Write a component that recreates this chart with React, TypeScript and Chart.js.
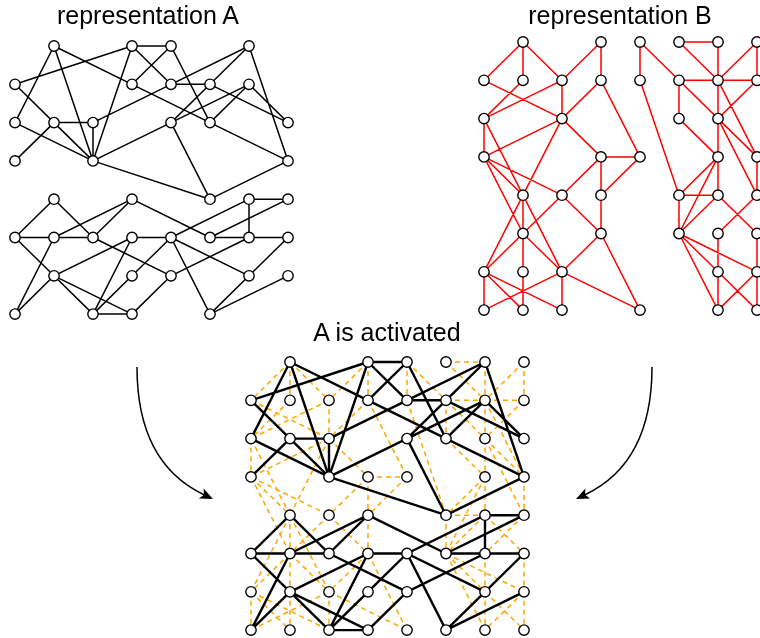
import React, { useEffect, useRef } from "react";
import { Chart, registerables } from "chart.js";

Chart.register(...registerables);

type Cell = [number, number];
type Edge = [number, number, number, number];

// ---------- Representation A: nodes as [row, col] on an 8x8 grid ----------
const nodesA: Cell[] = [
  [0, 1], [0, 3], [0, 4], [0, 6],
  [1, 0], [1, 3], [1, 4], [1, 5], [1, 6],
  [2, 0], [2, 1], [2, 2], [2, 4], [2, 5], [2, 7],
  [3, 0], [3, 2], [3, 7],
  [4, 1], [4, 3], [4, 5], [4, 6], [4, 7],
  [5, 0], [5, 1], [5, 2], [5, 3], [5, 4], [5, 5], [5, 6], [5, 7],
  [6, 1], [6, 3], [6, 4], [6, 6], [6, 7],
  [7, 0], [7, 2], [7, 3], [7, 5],
];

const edgesA: Edge[] = [
  [1, 0, 0, 3], [0, 3, 0, 4], [0, 1, 2, 0], [0, 1, 3, 2], [0, 1, 1, 3],
  [0, 3, 1, 4], [0, 4, 1, 3], [0, 4, 2, 5], [0, 3, 3, 2], [2, 2, 1, 4],
  [3, 2, 2, 4], [0, 6, 1, 4], [0, 6, 1, 5], [0, 6, 3, 7], [1, 4, 1, 5],
  [1, 5, 2, 7], [1, 6, 2, 4], [1, 6, 2, 5], [1, 6, 2, 7], [2, 5, 3, 7],
  [2, 4, 1, 5], [2, 4, 4, 5], [3, 2, 4, 5], [3, 7, 4, 5], [1, 0, 2, 1],
  [2, 0, 3, 2], [2, 1, 3, 0], [2, 1, 2, 2], [2, 1, 3, 2], [2, 2, 3, 2],
  [1, 3, 2, 5],
  [4, 1, 5, 0], [4, 1, 5, 2], [5, 0, 5, 1], [5, 0, 6, 1], [5, 1, 4, 3],
  [5, 1, 5, 2], [5, 1, 7, 0], [5, 2, 4, 3], [5, 2, 6, 4], [4, 3, 5, 5],
  [6, 1, 7, 0], [6, 1, 5, 3], [6, 1, 7, 2], [6, 1, 7, 3], [5, 3, 5, 4],
  [5, 3, 7, 2], [6, 3, 7, 2], [6, 3, 5, 4], [7, 2, 7, 3], [7, 3, 6, 4],
  [5, 4, 4, 6], [5, 4, 6, 6], [5, 4, 7, 5], [6, 4, 5, 6], [4, 6, 4, 7],
  [4, 6, 5, 6], [4, 7, 5, 5], [5, 5, 5, 6], [5, 6, 5, 7], [5, 7, 6, 6],
  [6, 6, 7, 5], [6, 7, 7, 5],
];

// ---------- Representation B ----------
const nodesB: Cell[] = [
  [0, 1], [0, 3], [0, 4], [0, 5], [0, 6], [0, 7],
  [1, 0], [1, 1], [1, 2], [1, 3], [1, 4], [1, 5], [1, 6], [1, 7],
  [2, 0], [2, 2], [2, 5], [2, 6],
  [3, 0], [3, 3], [3, 4], [3, 6], [3, 7],
  [4, 1], [4, 2], [4, 3], [4, 5], [4, 6], [4, 7],
  [5, 1], [5, 3], [5, 5], [5, 6], [5, 7],
  [6, 0], [6, 1], [6, 2], [6, 6], [6, 7],
  [7, 0], [7, 1], [7, 2], [7, 4], [7, 6], [7, 7],
];

const edgesB: Edge[] = [
  [0, 1, 1, 0], [0, 1, 1, 1], [0, 1, 1, 2], [1, 0, 2, 2], [1, 1, 2, 0],
  [1, 2, 2, 0], [1, 2, 2, 2], [0, 3, 1, 2], [0, 3, 1, 3], [1, 3, 2, 2],
  [1, 3, 3, 4], [2, 0, 3, 0], [2, 0, 4, 1], [2, 2, 3, 0], [2, 2, 3, 3],
  [2, 2, 4, 1], [3, 3, 3, 4], [3, 3, 4, 2], [3, 3, 4, 3], [3, 4, 4, 3],
  [3, 0, 4, 1], [3, 0, 4, 2], [3, 0, 5, 1],
  [4, 1, 5, 1], [4, 1, 6, 0], [4, 1, 6, 2], [4, 2, 5, 1], [4, 2, 5, 3],
  [4, 3, 5, 3], [5, 1, 6, 0], [5, 1, 6, 1], [5, 1, 6, 2], [5, 3, 6, 2],
  [5, 3, 7, 4], [6, 0, 7, 0], [6, 0, 7, 1], [6, 0, 7, 2], [7, 0, 6, 2],
  [6, 1, 7, 1], [6, 2, 7, 2], [6, 2, 7, 4],
  [0, 4, 1, 4], [0, 4, 1, 5], [1, 4, 4, 5], [0, 5, 0, 6], [0, 5, 1, 6],
  [0, 6, 1, 6], [0, 7, 1, 6], [0, 7, 1, 7], [1, 5, 1, 6], [1, 5, 2, 5],
  [1, 5, 2, 6], [1, 6, 1, 7], [1, 6, 2, 6], [1, 6, 3, 7], [1, 7, 2, 6],
  [2, 5, 3, 6], [2, 6, 3, 6], [2, 6, 3, 7], [2, 6, 4, 7], [3, 6, 4, 6],
  [3, 6, 4, 5], [3, 6, 5, 5], [3, 7, 4, 7],
  [4, 5, 4, 6], [4, 5, 5, 5], [4, 6, 5, 5], [4, 6, 5, 7], [4, 7, 5, 6],
  [5, 5, 6, 6], [5, 5, 6, 7], [5, 5, 7, 6], [5, 6, 6, 6], [6, 6, 7, 6],
  [6, 6, 7, 7], [6, 7, 7, 6], [5, 7, 6, 7], [6, 7, 7, 7],
];

const titles = ["representation A", "representation B", "A is activated"];

// ---------- layout ----------
const W = 760;
const H = 638;
const STEP_X = 39;
const STEP_Y = 38.3;
const ORIGIN_A = { x: 15, y: 46 };
const ORIGIN_B = { x: 484, y: 42 };
const ORIGIN_ACT = { x: 251, y: 362 };

const pt = (o: { x: number; y: number }, r: number, c: number) => ({
  x: o.x + c * STEP_X,
  y: o.y + r * STEP_Y,
});

const GAP = { x: NaN, y: NaN };

const edgeData = (edges: Edge[], o: { x: number; y: number }) =>
  edges.flatMap((e) => [pt(o, e[0], e[1]), pt(o, e[2], e[3]), { ...GAP }]);

const nodeData = (nodes: Cell[], o: { x: number; y: number }) =>
  nodes.map((n) => pt(o, n[0], n[1]));

const unionNodes = (): Cell[] => {
  const seen = new Set<string>();
  const out: Cell[] = [];
  [...nodesA, ...nodesB].forEach((n) => {
    const k = n[0] + "," + n[1];
    if (!seen.has(k)) {
      seen.add(k);
      out.push(n);
    }
  });
  return out;
};

const arrowPlugin = {
  id: "curvedArrows",
  afterDraw(chart: any) {
    const { ctx } = chart;
    const xs = chart.scales.x;
    const ys = chart.scales.y;
    const P = (x: number, y: number) => [xs.getPixelForValue(x), ys.getPixelForValue(y)];
    const arrows = [
      { a: P(137, 367), c: P(137, 463), b: P(213, 499) },
      { a: P(652, 367), c: P(652, 463), b: P(576, 499) },
    ];
    ctx.save();
    arrows.forEach(({ a, c, b }) => {
      const dx = b[0] - c[0];
      const dy = b[1] - c[1];
      const len = Math.hypot(dx, dy);
      const ux = dx / len;
      const uy = dy / len;
      const headLen = 13;
      const headW = 5.5;
      const base = [b[0] - ux * headLen, b[1] - uy * headLen];
      ctx.strokeStyle = "#000";
      ctx.lineWidth = 1.5;
      ctx.beginPath();
      ctx.moveTo(a[0], a[1]);
      ctx.quadraticCurveTo(c[0], c[1], base[0] + ux * 3, base[1] + uy * 3);
      ctx.stroke();
      ctx.fillStyle = "#000";
      ctx.beginPath();
      ctx.moveTo(b[0], b[1]);
      ctx.lineTo(base[0] - uy * headW, base[1] + ux * headW);
      ctx.lineTo(base[0] + ux * 3, base[1] + uy * 3);
      ctx.lineTo(base[0] + uy * headW, base[1] - ux * headW);
      ctx.closePath();
      ctx.fill();
    });
    ctx.restore();
  },
};

const lineDs = (data: any[], color: string, width: number, order: number, dash: number[] = []) => ({
  data,
  showLine: true,
  spanGaps: false,
  borderColor: color,
  borderWidth: width,
  borderDash: dash,
  pointRadius: 0,
  pointHoverRadius: 0,
  fill: false,
  tension: 0,
  clip: false,
  order,
});

const nodeDs = (data: any[]) => ({
  data,
  showLine: false,
  pointRadius: 5.2,
  pointHoverRadius: 5.2,
  pointBackgroundColor: "#ffffff",
  pointBorderColor: "#000000",
  pointBorderWidth: 1.4,
  clip: false,
  order: 0,
});

export default function App() {
  const ref = useRef<HTMLCanvasElement | null>(null);

  useEffect(() => {
    if (!ref.current) return;
    let chart: Chart | null = null;
    try {
      const all = unionNodes();
      chart = new Chart(ref.current, {
        type: "scatter",
        data: {
          datasets: [
            nodeDs(nodeData(nodesA, ORIGIN_A)),
            nodeDs(nodeData(nodesB, ORIGIN_B)),
            nodeDs(nodeData(all, ORIGIN_ACT)),
            lineDs(edgeData(edgesA, ORIGIN_ACT), "#000000", 2.4, 1),
            lineDs(edgeData(edgesB, ORIGIN_ACT), "#ffa500", 1.5, 2, [5, 4]),
            lineDs(edgeData(edgesA, ORIGIN_A), "#000000", 1.5, 3),
            lineDs(edgeData(edgesB, ORIGIN_B), "#ff0000", 1.5, 3),
          ] as any,
        },
        options: {
          animation: false,
          responsive: false,
          maintainAspectRatio: false,
          events: [],
          layout: { autoPadding: false, padding: 0 },
          scales: {
            x: { type: "linear", min: 0, max: W, display: false },
            y: { type: "linear", min: 0, max: H, reverse: true, display: false },
          },
          plugins: {
            legend: { display: false },
            tooltip: { enabled: false },
            title: { display: false },
          },
        },
        plugins: [arrowPlugin],
      });
    } catch (err) {
      console.error(err);
    }
    return () => {
      if (chart) chart.destroy();
    };
  }, []);

  const titleStyle = (cx: number, top: number): React.CSSProperties => ({
    position: "absolute",
    left: cx - 150,
    top,
    width: 300,
    textAlign: "center",
    fontFamily: "'Liberation Sans', Arial, sans-serif",
    fontSize: 25,
    lineHeight: "25px",
    color: "#000",
    whiteSpace: "nowrap",
  });

  return (
    <div style={{ position: "fixed", left: 0, top: 0, width: W, height: H, background: "#fff", overflow: "hidden" }}>
      <canvas ref={ref} width={W} height={H} style={{ position: "absolute", left: 0, top: 0, width: W, height: H }} />
      <div style={titleStyle(148, 3)}>{titles[0]}</div>
      <div style={titleStyle(620, 3)}>{titles[1]}</div>
      <div style={titleStyle(387, 320)}>{titles[2]}</div>
    </div>
  );
}
